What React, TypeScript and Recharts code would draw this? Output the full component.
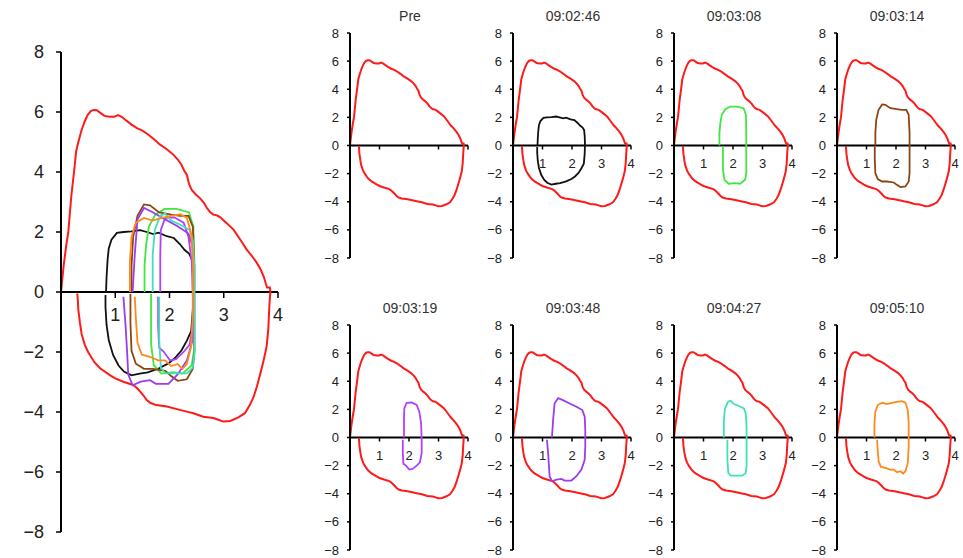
import { LineChart, Line, XAxis, YAxis, ReferenceLine, ReferenceDot } from 'recharts';

type Pt = { x: number; y: number };
const toPts = (a: number[][]): Pt[] => a.map(([x, y]) => ({ x, y }));

// pre-challenge loop (red), volume in L vs flow in L/s
const redLoop = toPts([
  [0, 0], [0.05, 0.9], [0.1, 1.6], [0.135, 2.0], [0.19, 3.2], [0.24, 4.0], [0.28, 4.7], [0.32, 5.0],
  [0.38, 5.4], [0.44, 5.7], [0.49, 5.9], [0.55, 6.03], [0.6, 6.07], [0.66, 6.06], [0.72, 5.98], [0.8, 5.87],
  [0.9, 5.84], [0.98, 5.84], [1.05, 5.9], [1.12, 5.84], [1.2, 5.72], [1.3, 5.58], [1.4, 5.46], [1.5, 5.38],
  [1.6, 5.26], [1.72, 5.08], [1.82, 4.92], [1.95, 4.76], [2.07, 4.58], [2.16, 4.4], [2.22, 4.24], [2.27, 4.05],
  [2.32, 3.9], [2.36, 3.6], [2.41, 3.4], [2.48, 3.26], [2.56, 3.13], [2.63, 2.98], [2.69, 2.8], [2.75, 2.66],
  [2.81, 2.58], [2.88, 2.55], [2.93, 2.5], [3.05, 2.3], [3.18, 2.08], [3.3, 1.76], [3.42, 1.42], [3.52, 1.2],
  [3.61, 0.97], [3.68, 0.75], [3.74, 0.5], [3.78, 0.25], [3.8, 0.15], [3.85, 0.15], [3.86, 0],
  [3.85, -0.2], [3.84, -0.5], [3.82, -1.27], [3.79, -1.82], [3.73, -2.32], [3.67, -2.75], [3.61, -3.16],
  [3.55, -3.5], [3.48, -3.77], [3.39, -4.04], [3.27, -4.18], [3.12, -4.3], [2.99, -4.32], [2.9, -4.26],
  [2.81, -4.2], [2.62, -4.16], [2.44, -4.04], [2.3, -3.98], [2.19, -3.93], [1.95, -3.82], [1.76, -3.77],
  [1.65, -3.7], [1.58, -3.6], [1.52, -3.45], [1.46, -3.32], [1.4, -3.2], [1.33, -3.1], [1.15, -2.99],
  [1.0, -2.88], [0.9, -2.77], [0.72, -2.54], [0.62, -2.35], [0.57, -2.21], [0.5, -2.0], [0.44, -1.77],
  [0.38, -1.4], [0.35, -1.04], [0.32, -0.6], [0.31, -0.27], [0.3, -0.05],
]);

const blackLoop = toPts([
  [0.83, 0], [0.84, 0.5], [0.86, 1.1], [0.88, 1.45], [0.93, 1.74], [1.03, 1.97], [1.15, 2.0], [1.3, 2.02],
  [1.46, 2.06], [1.58, 2.0], [1.7, 1.93], [1.8, 1.98], [1.95, 1.86], [2.08, 1.8], [2.19, 1.6], [2.28, 1.4],
  [2.36, 1.28], [2.41, 1.1], [2.43, 0.7], [2.44, 0.1], [2.43, -0.6], [2.4, -1.3], [2.32, -1.62], [2.22, -1.95],
  [2.1, -2.2], [1.98, -2.38], [1.8, -2.55], [1.6, -2.68], [1.45, -2.72], [1.3, -2.78], [1.16, -2.65],
  [1.06, -2.45], [0.96, -2.1], [0.88, -1.6], [0.84, -1.1], [0.82, -0.5], [0.82, -0.1],
]);

const greenLoop = toPts([
  [1.54, 0], [1.54, 0.88], [1.57, 1.59], [1.62, 2.18], [1.74, 2.58], [1.91, 2.77], [2.13, 2.77], [2.36, 2.65],
  [2.44, 2.18], [2.45, 0.88], [2.45, -0.78], [2.45, -1.96], [2.41, -2.44], [2.24, -2.72], [2.07, -2.67],
  [1.85, -2.72], [1.71, -2.44], [1.66, -1.73], [1.66, -0.07],
]);

const brownLoop = toPts([
  [1.3, 0], [1.3, 0.88], [1.33, 1.83], [1.41, 2.54], [1.53, 2.92], [1.64, 2.89], [1.81, 2.65], [2.03, 2.58],
  [2.2, 2.54], [2.35, 2.54], [2.43, 2.18], [2.46, 0.88], [2.46, -1.02], [2.46, -1.96], [2.43, -2.56],
  [2.32, -2.91], [2.15, -2.96], [2.03, -2.8], [1.92, -2.63], [1.69, -2.56], [1.53, -2.56], [1.38, -2.39],
  [1.3, -1.96], [1.28, -1.02], [1.28, -0.07],
]);

const violetLoop = toPts([
  [1.83, 0], [1.83, 1.25], [1.84, 2.07], [1.92, 2.47], [2.09, 2.49], [2.26, 2.31], [2.35, 1.84], [2.41, 1.01],
  [2.43, -0.16], [2.43, -1.11], [2.37, -1.76], [2.26, -2.0], [2.12, -2.24], [2.01, -2.28], [1.9, -2.0],
  [1.81, -1.86], [1.79, -1.11], [1.79, -0.16],
]);

const purpleLoop = toPts([
  [1.32, 0], [1.36, 1.25], [1.41, 2.42], [1.53, 2.8], [1.69, 2.66], [1.92, 2.42], [2.15, 2.19], [2.35, 1.95],
  [2.43, 1.48], [2.45, 0.54], [2.45, -0.64], [2.43, -1.58], [2.32, -2.28], [2.15, -2.75], [1.98, -3.06],
  [1.75, -3.06], [1.64, -2.94], [1.47, -2.99], [1.32, -3.11], [1.24, -2.75], [1.22, -2.05], [1.19, -1.11],
  [1.15, -0.16],
]);

const cyanLoop = toPts([
  [1.69, 0], [1.69, 1.25], [1.73, 2.07], [1.83, 2.54], [1.92, 2.61], [2.03, 2.38], [2.2, 2.24], [2.37, 2.07],
  [2.43, 1.72], [2.46, 0.78], [2.46, -0.64], [2.46, -2.05], [2.43, -2.52], [2.32, -2.71], [2.09, -2.71],
  [1.92, -2.71], [1.84, -2.52], [1.81, -1.58], [1.81, -0.16],
]);

const orangeLoop = toPts([
  [1.27, 0], [1.27, 1.01], [1.3, 1.84], [1.38, 2.31], [1.53, 2.47], [1.69, 2.38], [1.86, 2.47], [2.03, 2.54],
  [2.2, 2.59], [2.32, 2.47], [2.4, 1.95], [2.43, 1.01], [2.43, -0.64], [2.4, -1.81], [2.32, -2.4],
  [2.24, -2.56], [2.15, -2.4], [2.03, -2.47], [1.92, -2.28], [1.79, -2.28], [1.64, -2.16], [1.49, -2.09],
  [1.41, -1.69], [1.38, -0.87], [1.36, -0.16],
]);

const yTicks = [-8, -6, -4, -2, 0, 2, 4, 6, 8];
const xTicks = [1, 2, 3, 4];
const panelTitles = ['Pre', '09:02:46', '09:03:08', '09:03:14', '09:03:19', '09:03:48', '09:04:27', '09:05:10'];
const panelLoops: (Pt[] | null)[] = [null, blackLoop, greenLoop, brownLoop, violetLoop, purpleLoop, cyanLoop, orangeLoop];
const loopColors = ['', '#111111', '#3ee83e', '#8b4513', '#b040ff', '#9a3cf0', '#40e0b8', '#ff8a1c'];

const FONT = '"Liberation Sans", Arial, sans-serif';
const fmt = (v: number) => (v < 0 ? `\u2212${-v}` : `${v}`);

const xTickShape = (value: number, fontSize: number, len: number, gap: number, showLabel: boolean) => (p: any) => (
  <g>
    <line x1={p.cx} y1={p.cy} x2={p.cx} y2={p.cy + len} stroke="#000" strokeWidth={1.5} />
    {showLabel && (
      <text x={p.cx} y={p.cy + gap} textAnchor="middle" dominantBaseline="central" fontSize={fontSize} fontFamily={FONT} fill="#222">
        {value}
      </text>
    )}
  </g>
);

type PanelProps = {
  loops: { data: Pt[]; color: string }[];
  width: number;
  height: number;
  yWidth: number;
  margin: { top: number; right: number; bottom: number; left: number };
  fontSize: number;
  tickSize: number;
  tickMargin: number;
  xTickLen: number;
  xLabelGap: number;
  showXLabels: boolean;
};

function LoopPanel(p: PanelProps) {
  return (
    <LineChart width={p.width} height={p.height} margin={p.margin}>
      <XAxis type="number" dataKey="x" domain={[0, 4]} hide allowDataOverflow />
      <YAxis
        type="number"
        domain={[-8, 8]}
        ticks={yTicks}
        width={p.yWidth}
        tickFormatter={fmt}
        tickSize={p.tickSize}
        tickMargin={p.tickMargin}
        axisLine={{ stroke: '#000', strokeWidth: 2 }}
        tickLine={{ stroke: '#000', strokeWidth: 1.5 }}
        tick={{ fill: '#222', fontSize: p.fontSize, fontFamily: FONT }}
        interval={0}
      />
      <ReferenceLine y={0} stroke="#000" strokeWidth={2} />
      {xTicks.map((t) => (
        <ReferenceDot key={t} x={t} y={0} shape={xTickShape(t, p.fontSize, p.xTickLen, p.xLabelGap, p.showXLabels)} />
      ))}
      <Line data={redLoop} dataKey="y" stroke="#ff1a1a" strokeWidth={2} dot={false} isAnimationActive={false} />
      {p.loops.map((l, i) => (
        <Line key={i} data={l.data} dataKey="y" stroke={l.color} strokeWidth={1.8} dot={false} isAnimationActive={false} />
      ))}
    </LineChart>
  );
}

const smallAxisX = [350, 513, 674, 837];
const smallPlotTop = [33.3, 324.5];

export default function App() {
  const allLoops = panelLoops
    .map((d, i) => (d ? { data: d, color: loopColors[i] } : null))
    .filter(Boolean) as { data: Pt[]; color: string }[];

  return (
    <div style={{ position: 'absolute', left: 0, top: 0, width: 963, height: 558, background: '#fff', fontFamily: FONT, overflow: 'hidden' }}>
      <div style={{ position: 'absolute', left: 11, top: 40 }}>
        <LoopPanel
          loops={allLoops}
          width={287}
          height={504}
          yWidth={50}
          margin={{ top: 12, right: 20, bottom: 12, left: 0 }}
          fontSize={18}
          tickSize={5}
          tickMargin={12}
          xTickLen={6}
          xLabelGap={23}
          showXLabels
        />
      </div>
      {panelTitles.map((title, i) => {
        const row = Math.floor(i / 4);
        const col = i % 4;
        const ax = smallAxisX[col];
        const top = smallPlotTop[row];
        const loop = panelLoops[i];
        return (
          <div key={title}>
            <div
              style={{
                position: 'absolute',
                left: ax + 60 - 50,
                width: 100,
                top: top - 25,
                textAlign: 'center',
                fontSize: 14,
                color: '#333',
              }}
            >
              {title}
            </div>
            <div style={{ position: 'absolute', left: ax - 30, top: top - 10 }}>
              <LoopPanel
                loops={loop ? [{ data: loop, color: loopColors[i] }] : []}
                width={160}
                height={245}
                yWidth={30}
                margin={{ top: 10, right: 12, bottom: 10, left: 0 }}
                fontSize={13}
                tickSize={3}
                tickMargin={8}
                xTickLen={4}
                xLabelGap={17.5}
                showXLabels={i !== 0}
              />
            </div>
          </div>
        );
      })}
    </div>
  );
}
